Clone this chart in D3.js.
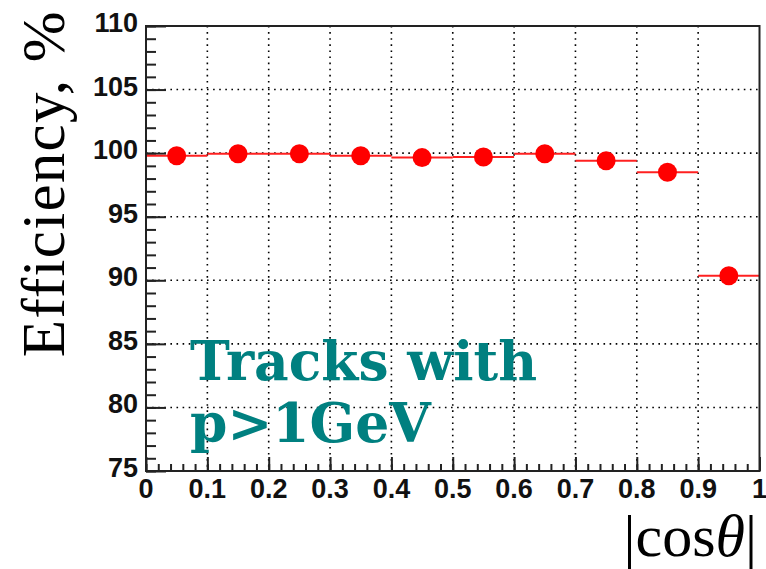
<!DOCTYPE html>
<html>
<head>
<meta charset="utf-8">
<script src="https://cdn.jsdelivr.net/npm/d3@7"></script>
<style>
  html, body { margin: 0; padding: 0; background: #fff; }
  svg { display: block; }
</style>
</head>
<body>
<svg id="chart" width="766" height="569"></svg>
<script>
// Bin edges in |cos(theta)| and the measured efficiency per bin (%)
const binLow  = [0.0, 0.1, 0.2, 0.3, 0.4, 0.5, 0.6, 0.7, 0.8, 0.9];
const binHigh = [0.1, 0.2, 0.3, 0.4, 0.5, 0.6, 0.7, 0.8, 0.9, 1.0];
const efficiency = [99.8, 99.95, 99.95, 99.8, 99.65, 99.7, 99.95, 99.4, 98.5, 90.35];

const xTicks = [0, 0.1, 0.2, 0.3, 0.4, 0.5, 0.6, 0.7, 0.8, 0.9, 1];
const xTickLabels = ["0", "0.1", "0.2", "0.3", "0.4", "0.5", "0.6", "0.7", "0.8", "0.9", "1"];
const yTicks = [75, 80, 85, 90, 95, 100, 105, 110];
const yTickLabels = ["75", "80", "85", "90", "95", "100", "105", "110"];

const frame = { left: 146, right: 759.5, top: 26, bottom: 471 };

const svg = d3.select("#chart");

const x = d3.scaleLinear().domain([0, 1]).range([frame.left, frame.right]);
const y = d3.scaleLinear().domain([75, 110]).range([frame.bottom, frame.top]);

// dotted grid
const grid = svg.append("g");
grid.selectAll("line.gx")
  .data(xTicks.slice(1, -1))
  .join("line")
  .attr("x1", d => x(d)).attr("x2", d => x(d))
  .attr("y1", frame.top).attr("y2", frame.bottom)
  .attr("stroke", "#000").attr("stroke-width", 1.6)
  .attr("stroke-dasharray", "1.6,4.5");
grid.selectAll("line.gy")
  .data(yTicks.slice(1, -1))
  .join("line")
  .attr("y1", d => y(d)).attr("y2", d => y(d))
  .attr("x1", frame.left).attr("x2", frame.right)
  .attr("stroke", "#000").attr("stroke-width", 1.6)
  .attr("stroke-dasharray", "1.6,4.5");

// bottom axis: major ticks every 0.1, minor every 0.02
const xMinor = d3.range(0, 1.0001, 0.02);
const xAxisMajor = d3.axisTop(x).tickValues(xTicks).tickSize(14).tickFormat("");
const xAxisMinor = d3.axisTop(x).tickValues(xMinor).tickSize(7).tickFormat("");
svg.append("g").attr("transform", `translate(0,${frame.bottom})`).call(xAxisMinor)
  .call(g => g.select(".domain").remove())
  .call(g => g.selectAll("line").attr("stroke", "#222").attr("stroke-width", 2));
svg.append("g").attr("transform", `translate(0,${frame.bottom})`).call(xAxisMajor)
  .call(g => g.select(".domain").remove())
  .call(g => g.selectAll("line").attr("stroke", "#222").attr("stroke-width", 2));

// left axis: major ticks every 5, minor every 1
const yMinor = d3.range(75, 110.001, 1);
const yAxisMajor = d3.axisRight(y).tickValues(yTicks).tickSize(20).tickFormat("");
const yAxisMinor = d3.axisRight(y).tickValues(yMinor).tickSize(10).tickFormat("");
svg.append("g").attr("transform", `translate(${frame.left},0)`).call(yAxisMinor)
  .call(g => g.select(".domain").remove())
  .call(g => g.selectAll("line").attr("stroke", "#222").attr("stroke-width", 2));
svg.append("g").attr("transform", `translate(${frame.left},0)`).call(yAxisMajor)
  .call(g => g.select(".domain").remove())
  .call(g => g.selectAll("line").attr("stroke", "#222").attr("stroke-width", 2));

// tick labels
const labelFont = "'Liberation Sans', Arial, Helvetica, sans-serif";
svg.append("g").selectAll("text")
  .data(xTicks)
  .join("text")
  .attr("x", d => x(d))
  .attr("y", 498)
  .attr("text-anchor", "middle")
  .attr("font-family", labelFont).attr("font-weight", "bold")
  .attr("font-size", 27).attr("fill", "#111")
  .text((d, i) => xTickLabels[i]);
svg.append("g").selectAll("text")
  .data(yTicks)
  .join("text")
  .attr("x", 138)
  .attr("y", d => y(d) + 6)
  .attr("text-anchor", "end")
  .attr("font-family", labelFont).attr("font-weight", "bold")
  .attr("font-size", 27).attr("fill", "#111")
  .text((d, i) => yTickLabels[i]);

// annotation
const note = svg.append("text")
  .attr("font-family", "'DejaVu Serif', serif").attr("font-weight", "bold")
  .attr("font-size", 53.5).attr("fill", "#008080");
note.append("tspan").attr("x", 190).attr("y", 380).text("Tracks with");
note.append("tspan").attr("x", 190).attr("y", 442).text("p>1GeV");

// bin-width horizontal bars
const binData = efficiency.map((v, i) => ({ lo: binLow[i], hi: binHigh[i], v }));
svg.append("g").selectAll("line")
  .data(binData)
  .join("line")
  .attr("x1", d => x(d.lo)).attr("x2", d => x(d.hi))
  .attr("y1", d => y(d.v)).attr("y2", d => y(d.v))
  .attr("stroke", "#ff2020").attr("stroke-width", 2);

// markers
svg.append("g").selectAll("circle")
  .data(binData)
  .join("circle")
  .attr("cx", d => x((d.lo + d.hi) / 2))
  .attr("cy", d => y(d.v))
  .attr("r", 9.5)
  .attr("fill", "#ff0000");

// frame
svg.append("rect")
  .attr("x", frame.left).attr("y", frame.top)
  .attr("width", frame.right - frame.left).attr("height", frame.bottom - frame.top)
  .attr("fill", "none").attr("stroke", "#222").attr("stroke-width", 2);

// axis titles
svg.append("text")
  .attr("x", 757).attr("y", 556)
  .attr("text-anchor", "end")
  .attr("font-family", "'Liberation Serif', 'Times New Roman', serif")
  .attr("font-size", 60).attr("fill", "#000")
  .html("|cos<tspan font-style='italic'>θ</tspan>|");
svg.append("text")
  .attr("transform", "translate(64,10) rotate(-90)")
  .attr("text-anchor", "end")
  .attr("font-family", "'Liberation Serif', 'Times New Roman', serif")
  .attr("font-size", 61).attr("letter-spacing", 1.3).attr("fill", "#000")
  .text("Efficiency, %");
</script>
</body>
</html>
